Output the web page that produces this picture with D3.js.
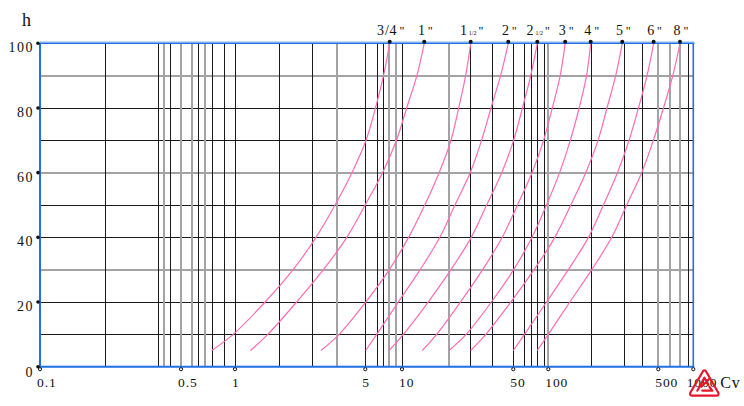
<!DOCTYPE html>
<html><head><meta charset="utf-8">
<script src="https://cdn.jsdelivr.net/npm/d3@7"></script>
<style>html,body{margin:0;padding:0;background:#fff;}svg{display:block;}</style>
</head><body>
<svg id="chart" width="744" height="406"></svg>
<script>
// ---- data ----
const heights = [5, 10, 20, 30, 40, 50, 60, 70, 80, 90, 100];
const cv_3_4 = [0.741, 0.978, 1.45, 2.05, 2.72, 3.44, 4.24, 5.07, 6.06, 7.05, 7.93];
const cv_1   = [1.21, 1.50, 2.14, 2.98, 3.98, 4.99, 6.93, 9.01, 10.7, 12.4, 13.8];
const cv_1_5 = [2.89, 3.62, 5.05, 7.87, 11.0, 13.9, 17.1, 20.3, 22.7, 25.1, 27.0];
const cv_2   = [5.04, 6.20, 9.34, 13.0, 17.3, 21.5, 26.8, 31.6, 36.2, 41.6, 46.5];
const cv_2_5 = [7.82, 10.2, 14.6, 20.3, 27.2, 34.0, 42.3, 50.3, 59.9, 70.6, 80.4];
const cv_3   = [13.4, 16.5, 23.3, 32.1, 42.6, 54.3, 72.4, 91.1, 106, 119, 128];
const cv_4   = [19.7, 25.3, 36.4, 50.3, 72.4, 96.5, 118, 138, 157, 175, 186];
const cv_5   = [27.0, 33.6, 48.2, 75.5, 110, 139, 173, 207, 236, 268, 295];
const cv_6   = [50.0, 62.4, 96.5, 134, 180, 224, 275, 326, 374, 424, 467];
const cv_8   = [80.4, 100, 137, 189, 253, 315, 392, 465, 554, 666, 768];
const seriesCv = [cv_3_4, cv_1, cv_1_5, cv_2, cv_2_5, cv_3, cv_4, cv_5, cv_6, cv_8];
const sizeMain = ['3/4', '1', '1', '2', '2', '3', '4', '5', '6', '8'];
const sizeFrac = ['', '', '1/2', '', '1/2', '', '', '', '', ''];

const xTicks = [0.1, 0.5, 1, 5, 10, 50, 100, 500, 1000];
const xTickLabels = ['0.1', '0.5', '1', '5', '10', '50', '100', '500', '1000'];
const yTicks = [0, 20, 40, 60, 80, 100];
const hGrid = [10, 20, 30, 40, 50, 60, 70, 80, 90];
const hGridGray = [30, 60, 90];
const vGridBlack = [0.211, 0.383, 0.443, 0.624, 0.742, 0.872, 1, 1.73, 2.60, 5, 6.20, 6.92, 10, 26.9, 37.0, 50, 62.4, 71.3, 80.7, 92.2, 188, 304, 392, 895];
const vGridGray = [0.41, 0.5, 0.576, 0.678, 3.51, 7.82, 8.85, 19.7, 100, 500, 630, 776];

// ---- scales ----
const x = d3.scaleLog().domain(xTicks).range([40, 181, 235, 365.3, 402, 513.3, 548.3, 658.3, 693.3]);
const y = d3.scaleLinear().domain([0, 100]).range([366.7, 43.3]);

const svg = d3.select('#chart');
const FONT = '"Liberation Serif","Times New Roman",serif';
const BLUE = '#1f6fe5';
const PINK = '#ff6cb6';

const x0 = x(0.1), x1 = x(1000), yTop = y(100), yBot = y(0);

// horizontal grid
svg.append('g').selectAll('line').data(hGrid).join('line')
  .attr('x1', x0).attr('x2', x1)
  .attr('y1', d => Math.round(y(d)) + (hGridGray.includes(d) ? 0 : 0.5))
  .attr('y2', d => Math.round(y(d)) + (hGridGray.includes(d) ? 0 : 0.5))
  .attr('stroke', d => hGridGray.includes(d) ? '#a3a3a3' : '#1a1a1a')
  .attr('stroke-width', d => hGridGray.includes(d) ? 2 : 1);

// vertical grid
svg.append('g').selectAll('line').data(vGridGray).join('line')
  .attr('x1', d => Math.round(x(d))).attr('x2', d => Math.round(x(d)))
  .attr('y1', yTop).attr('y2', yBot)
  .attr('stroke', '#a3a3a3').attr('stroke-width', 2);
svg.append('g').selectAll('line').data(vGridBlack).join('line')
  .attr('x1', d => Math.round(x(d)) + 0.5).attr('x2', d => Math.round(x(d)) + 0.5)
  .attr('y1', yTop).attr('y2', yBot)
  .attr('stroke', '#1a1a1a').attr('stroke-width', 1);

// curves
const line = d3.line()
  .x(d => x(d[0])).y(d => y(d[1]))
  .curve(d3.curveCatmullRom.alpha(0.5));
svg.append('g').selectAll('path').data(seriesCv).join('path')
  .attr('d', s => line(s.map((v, i) => [v, heights[i]])))
  .attr('fill', 'none').attr('stroke', PINK).attr('stroke-width', 1.2);

// frame
svg.append('line').attr('x1', x0).attr('x2', x1 + 1).attr('y1', yTop - 1.5).attr('y2', yTop - 1.5)
  .attr('stroke', '#a9c9f2').attr('stroke-width', 1);
svg.append('line').attr('x1', x0).attr('x2', x1 + 1).attr('y1', yTop).attr('y2', yTop)
  .attr('stroke', BLUE).attr('stroke-width', 1.6);
svg.append('line').attr('x1', x0).attr('x2', x0).attr('y1', yTop).attr('y2', yBot + 1)
  .attr('stroke', BLUE).attr('stroke-width', 2);
svg.append('line').attr('x1', x0).attr('x2', x1 + 1).attr('y1', yBot).attr('y2', yBot)
  .attr('stroke', BLUE).attr('stroke-width', 2);
svg.append('line').attr('x1', x1).attr('x2', x1).attr('y1', yTop).attr('y2', yBot)
  .attr('stroke', BLUE).attr('stroke-width', 1.6);

// top end dots
svg.append('g').selectAll('circle').data(seriesCv).join('circle')
  .attr('cx', s => x(s[s.length - 1])).attr('cy', yTop - 1.5).attr('r', 2)
  .attr('fill', '#111');

// size labels
const lab = svg.append('g').attr('font-family', FONT).attr('fill', '#111');
seriesCv.forEach((s, i) => {
  const t = lab.append('text')
    .attr('x', x(s[s.length - 1]) + 1).attr('y', 35)
    .attr('text-anchor', 'middle');
  t.append('tspan').attr('font-size', 14).attr('letter-spacing', 0.8).text(sizeMain[i]);
  if (sizeFrac[i]) t.append('tspan').attr('font-size', 6).attr('dx', 1).text(sizeFrac[i]);
  t.append('tspan').attr('font-size', 12).attr('dx', 2).text('"');
});

// y axis ticks
svg.append('g').selectAll('circle').data(yTicks).join('circle')
  .attr('cx', x0 - 2).attr('cy', d => y(d)).attr('r', 1.8).attr('fill', '#111');
svg.append('g').attr('font-family', FONT).attr('font-size', 14).attr('fill', '#111')
  .selectAll('text').data(yTicks).join('text')
  .attr('x', x0 - 6).attr('y', d => y(d) + (d === 0 ? 10 : 9))
  .attr('text-anchor', 'end').attr('letter-spacing', 1.5)
  .text(d => d);

// x axis ticks
svg.append('g').selectAll('circle').data(xTicks).join('circle')
  .attr('cx', d => x(d)).attr('cy', yBot + 2.5).attr('r', 1.6)
  .attr('fill', '#fff').attr('stroke', '#111').attr('stroke-width', 1);
svg.append('g').attr('font-family', FONT).attr('font-size', 13.5).attr('fill', '#111')
  .selectAll('text').data(xTicks).join('text')
  .attr('x', (d, i) => i === xTicks.length - 1 ? x(d) + 24 : x(d) - 3)
  .attr('y', yBot + 20)
  .attr('text-anchor', (d, i) => i === xTicks.length - 1 ? 'end' : 'start')
  .attr('letter-spacing', 0.9)
  .text((d, i) => xTickLabels[i]);

// axis titles
svg.append('text').attr('x', 22).attr('y', 26).attr('font-family', FONT)
  .attr('font-size', 18).attr('fill', '#111').text('h');
svg.append('text').attr('x', x1 + 27).attr('y', yBot + 21).attr('font-family', FONT)
  .attr('font-size', 16).attr('letter-spacing', 0.8).attr('fill', '#111').text('Cv');

// logo (red rounded triangle mark)
const logo = svg.append('g')
  .attr('transform', `translate(${x1 - 4},${yBot + 3})`)
  .attr('fill', 'none').attr('stroke', '#e8162a').attr('stroke-width', 2.2)
  .attr('stroke-linejoin', 'round').attr('stroke-linecap', 'round');
logo.append('path').attr('d', 'M14,1 Q16,0 17,2 L29,23 Q30,26 27,26 L3,26 Q0,26 1,23 Z');
logo.append('path').attr('d', 'M8,21 L15,8 L19,15 M12,17 L20,9 M13,21 L23,21 L20,17');
</script>
</body></html>
